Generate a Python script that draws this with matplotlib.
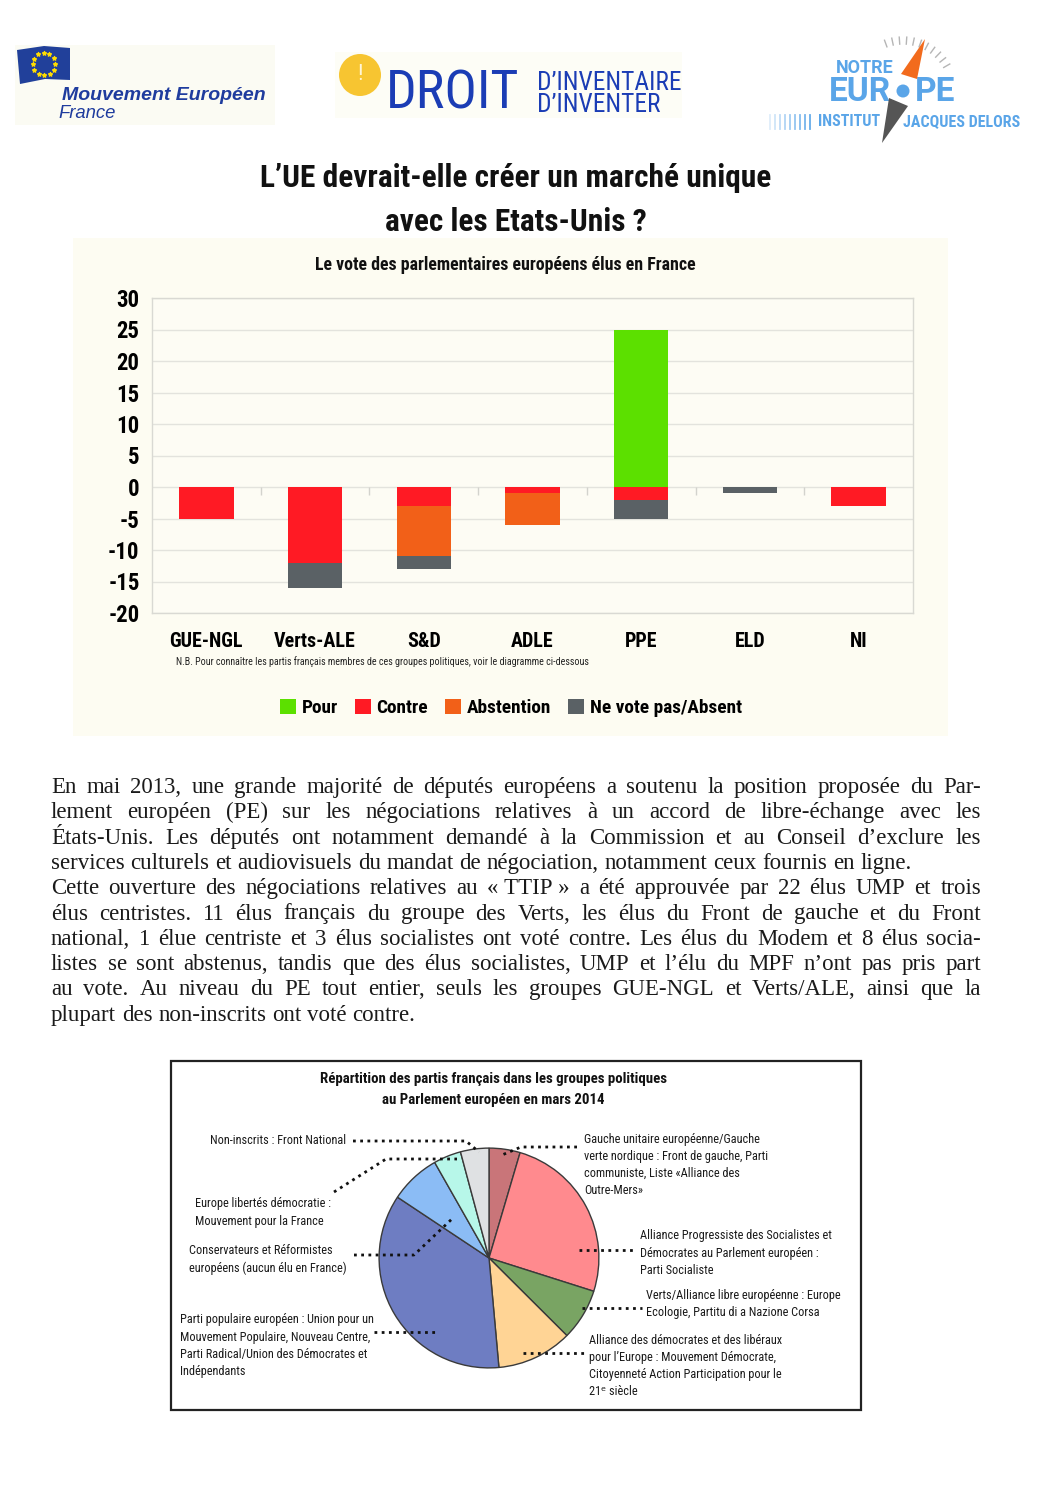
import matplotlib
matplotlib.use('Agg')
import matplotlib.pyplot as plt
import numpy as np
from matplotlib.patches import Rectangle, Circle, Polygon
from matplotlib import font_manager as fm

W, H = 1058, 1497

# ---------------- data ----------------
categories = ['GUE-NGL', 'Verts-ALE', 'S&D', 'ADLE', 'PPE', 'ELD', 'NI']
pour = [0, 0, 0, 0, 25, 0, 0]
contre = [5, 12, 3, 1, 2, 0, 3]
abstention = [0, 0, 8, 5, 0, 0, 0]
absent = [0, 4, 2, 0, 3, 1, 0]
series_labels = ['Pour', 'Contre', 'Abstention', 'Ne vote pas/Absent']
series_colors = ['#5ce000', '#ff1a24', '#f26018', '#5a6165']
yticks = list(range(-20, 31, 5))

pie_groups = ['GUE/NGL', 'S&D', 'Verts/ALE', 'ADLE', 'PPE', 'ECR', 'ELD', 'NI']
pie_sizes = [35, 194, 58, 85, 274, 57, 31, 32]
pie_colors = ['#c97579', '#ff8a8e', '#79a463', '#ffd495', '#6e7dc2', '#8bbcf5', '#b7f7e9', '#dfe1e3']

paragraph_lines = [
    "En mai 2013, une grande majorité de députés européens a soutenu la position proposée du Par-",
    "lement européen (PE) sur les négociations relatives à un accord de libre-échange avec les",
    "États-Unis. Les députés ont notamment demandé à la Commission et au Conseil d’exclure les",
    "services culturels et audiovisuels du mandat de négociation, notamment ceux fournis en ligne.",
    "Cette ouverture des négociations relatives au «\u00a0TTIP\u00a0» a été approuvée par 22 élus UMP et trois",
    "élus centristes. 11 élus français du groupe des Verts, les élus du Front de gauche et du Front",
    "national, 1 élue centriste et 3 élus socialistes ont voté contre. Les élus du Modem et 8 élus socia-",
    "listes se sont abstenus, tandis que des élus socialistes, UMP et l’élu du MPF n’ont pas pris part",
    "au vote. Au niveau du PE tout entier, seuls les groupes GUE-NGL et Verts/ALE, ainsi que la",
    "plupart des non-inscrits ont voté contre.",
]
justified = [True, True, True, False, True, True, True, True, True, False]


# ---------------- fonts ----------------
def pick_condensed():
    entries = fm.fontManager.ttflist
    names = {f.name for f in entries}
    for p in ['Roboto Condensed', 'Open Sans Condensed', 'Liberation Sans Narrow', 'Noto Sans Condensed']:
        if p in names:
            return p, 'normal'
    for fam in ['Roboto', 'Noto Sans', 'Open Sans', 'DejaVu Sans']:
        for f in entries:
            if f.name == fam and f.stretch in ('condensed', 'semi-condensed', 'extra-condensed'):
                return fam, f.stretch
    return 'DejaVu Sans', 'normal'


CFAM, CSTR = pick_condensed()
COND = [CFAM, 'DejaVu Sans']
SERIF = ['Liberation Serif', 'DejaVu Serif']
SANS = ['Roboto', 'DejaVu Sans']

# ---------------- figure ----------------
fig = plt.figure(figsize=(W / 100, H / 100), dpi=100)
fig.patch.set_facecolor('white')
renderer = fig.canvas.get_renderer()


def fbox(x0, y0, x1, y1):
    return [x0 / W, 1 - y1 / H, (x1 - x0) / W, (y1 - y0) / H]


page = fig.add_axes([0, 0, 1, 1], zorder=0)
page.set_xlim(0, W)
page.set_ylim(H, 0)
page.axis('off')

fg = fig.add_axes([0, 0, 1, 1], zorder=6)
fg.set_xlim(0, W)
fg.set_ylim(H, 0)
fg.axis('off')
fg.patch.set_alpha(0)


def measure(s, fs, family=COND, stretch=CSTR, **kw):
    t = page.text(0, 0, s, fontsize=fs, family=family, fontstretch=stretch, **kw)
    w = t.get_window_extent(renderer).width
    t.remove()
    return w


def fit_size(s, target, max_fs, **kw):
    w = measure(s, 20, **kw)
    return min(max_fs, 20 * target / w)


def put(x, y, s, fs, ha='left', va='center', family=COND, stretch=CSTR, color='#111111', **kw):
    return page.text(x, y, s, fontsize=fs, family=family, fontstretch=stretch, ha=ha, va=va,
                     color=color, **kw)


# ---------------- header logos ----------------
page.add_patch(Rectangle((15, 45), 260, 80, color='#fbfbf3', lw=0))
page.add_patch(Polygon([(17, 50), (44, 46), (70, 48), (70, 80), (45, 79), (20, 84)],
                       closed=True, color='#21409a', lw=0))
ang = np.linspace(0, 2 * np.pi, 13)[:-1]
page.scatter(44 + 11 * np.cos(ang), 64 + 11 * np.sin(ang), marker='*', s=8, color='#ffdd00', zorder=3)
ARIAL = ['Liberation Sans', 'DejaVu Sans']
fs_me = fit_size('Mouvement Européen', 211, 14, family=ARIAL, stretch='normal', fontweight='bold',
                 fontstyle='italic')
put(62, 95, 'Mouvement Européen', fs_me, family=ARIAL, stretch='normal', fontweight='bold',
    fontstyle='italic', color='#1f3c9e')
put(58, 114, 'France', fs_me * 0.95, family=ARIAL, stretch='normal', fontstyle='italic', color='#1f3c9e')

BL = '#1b3db5'
page.add_patch(Rectangle((335, 52), 347, 66, color='#fdfdf6', lw=0))
page.add_patch(Circle((360, 75), 21, color='#f7c531', lw=0))
put(360, 75, '!', 16, ha='center', color='#fff6d8')
put(386, 94, 'DROIT', fit_size('DROIT', 134, 42), color=BL)
fs_di = fit_size('D’INVENTAIRE', 144, 19)
put(537, 83, 'D’INVENTAIRE', fs_di, color=BL)
put(537, 105, 'D’INVENTER', fs_di, color=BL)

NE = '#5aa5e8'
put(865, 68, 'NOTRE', fit_size('NOTRE', 64, 13, family=SANS, stretch='normal', fontweight='bold'),
    ha='center', family=SANS, stretch='normal', fontweight='bold', color=NE)
fs_eu = fit_size('EUR', 72, 24, family=SANS, stretch='normal', fontweight='bold')
put(891, 92, 'EUR', fs_eu, ha='right', family=SANS, stretch='normal', fontweight='bold', color=NE)
put(915, 92, 'PE', fs_eu, ha='left', family=SANS, stretch='normal', fontweight='bold', color=NE)
page.add_patch(Circle((903, 91), 6.5, color=NE, lw=0))
fs_in = fit_size('JACQUES DELORS', 117, 14, fontweight='bold')
put(880, 122, 'INSTITUT', fs_in, ha='right', fontweight='bold', color=NE)
put(903, 122, 'JACQUES DELORS', fs_in, ha='left', fontweight='bold', color=NE)
for i, xx in enumerate(range(770, 812, 5)):
    page.plot([xx, xx], [115, 129], color=NE, lw=1.3, alpha=0.2 + 0.09 * i)
for a in np.radians(np.arange(-20, 64, 8)):
    page.plot([903 + 47 * np.sin(a), 903 + 54 * np.sin(a)],
              [91 - 47 * np.cos(a), 91 - 54 * np.cos(a)], color='#b5b5b5', lw=1)
page.add_patch(Polygon([(925, 39), (901, 74), (917, 79)], closed=True, color='#f26b1d', lw=0, zorder=4))
page.add_patch(Polygon([(889, 98), (908, 106), (882, 143)], closed=True, color='#555555', lw=0, zorder=4))

# ---------------- title ----------------
fs_t = fit_size('L’UE devrait-elle créer un marché unique', 508, 25, fontweight='bold')
put(516, 178, 'L’UE devrait-elle créer un marché unique', fs_t, ha='center', fontweight='bold')
page.add_patch(Rectangle((73, 238), 875, 498, color='#fdfcf2', lw=0))
put(516, 222, 'avec les Etats-Unis ?', fs_t, ha='center', fontweight='bold', zorder=3)
fs_sub = fit_size('Le vote des parlementaires européens élus en France', 379, 14, fontweight='bold')
put(505, 265, 'Le vote des parlementaires européens élus en France', fs_sub, ha='center', fontweight='bold')

# ---------------- bar chart ----------------
ax = fig.add_axes(fbox(152, 298, 913, 613), zorder=2)
ax.set_facecolor('#fdfcf4')
x = np.arange(len(categories))
contre_a = np.array(contre)
abst_a = np.array(abstention)
absent_a = np.array(absent)
bw = 0.5
b0 = ax.bar(x, pour, bw, color=series_colors[0], label=series_labels[0], zorder=3)
b1 = ax.bar(x, -contre_a, bw, color=series_colors[1], label=series_labels[1], zorder=3)
b2 = ax.bar(x, -abst_a, bw, bottom=-contre_a, color=series_colors[2], label=series_labels[2], zorder=3)
b3 = ax.bar(x, -absent_a, bw, bottom=-(contre_a + abst_a), color=series_colors[3],
            label=series_labels[3], zorder=3)
ax.set_xlim(-0.5, len(categories) - 0.5)
ax.set_ylim(-20, 30)
fs_y = fit_size('-20', 26, 16, fontweight='bold') * 1.2
fs_x = fit_size('Verts-ALE', 72, 16, fontweight='bold') * 1.13
ax.set_yticks(yticks)
ax.set_yticklabels([str(v) for v in yticks], fontsize=fs_y, fontweight='bold', family=COND,
                   fontstretch=CSTR)
ax.set_xticks(x)
ax.set_xticklabels(categories, fontsize=fs_x, fontweight='bold', family=COND, fontstretch=CSTR)
ax.tick_params(axis='y', length=0, pad=9)
ax.tick_params(axis='x', length=0, pad=14)
ax.yaxis.grid(True, color='#e3e3dd', lw=1, zorder=0)
ax.set_axisbelow(True)
for s in ax.spines.values():
    s.set_color('#d9d9d3')
    s.set_linewidth(1)
ax.vlines(np.arange(0.5, len(categories) - 0.5, 1), -1.25, 0, color='#d3d3cd', lw=1, zorder=1)

nb = 'N.B. Pour connaître les partis français membres de ces groupes politiques, voir le diagramme ci-dessous'
put(176, 662, nb, fit_size(nb, 414, 8), color='#222222')

fs_leg = fit_size('Ne vote pas/Absent', 140, 15, fontweight='bold') * 1.08
fig.legend(handles=[b0, b1, b2, b3], labels=series_labels, loc='center',
           bbox_to_anchor=(511 / W, 1 - 708 / H), ncol=4, frameon=False,
           prop=fm.FontProperties(family=COND, weight='bold', size=fs_leg, stretch=CSTR),
           handlelength=0.8, handleheight=0.8, handletextpad=0.3, columnspacing=0.9)

# ---------------- justified paragraph ----------------
XL, XR = 51, 981
fs = 16.5
maxw = max(measure(l, fs, family=SERIF, stretch='normal') for l, j in zip(paragraph_lines, justified) if j)
if maxw > (XR - XL) * 0.985:
    fs = fs * (XR - XL) * 0.985 / maxw
space = measure('a a', fs, family=SERIF, stretch='normal') - measure('aa', fs, family=SERIF, stretch='normal')
base = 793
for i, (line, j) in enumerate(zip(paragraph_lines, justified)):
    y = base + i * 25.3
    words = line.split(' ')
    widths = [measure(w_, fs, family=SERIF, stretch='normal') for w_ in words]
    if j and len(words) > 1:
        gap = (XR - XL - sum(widths)) / (len(words) - 1)
    else:
        gap = space
    xx = XL
    for w_, wd in zip(words, widths):
        put(xx, y, w_, fs, family=SERIF, stretch='normal', va='baseline', color='#1a1a1a')
        xx += wd + gap

# ---------------- pie chart ----------------
page.add_patch(Rectangle((171, 1061), 690, 349, fill=False, edgecolor='#222222', lw=1.6))
pt1 = 'Répartition des partis français dans les groupes politiques'
fs_pt = fit_size(pt1, 348, 12, fontweight='bold')
put(493, 1079, pt1, fs_pt, ha='center', fontweight='bold')
put(493, 1100, 'au Parlement européen en mars 2014', fs_pt, ha='center', fontweight='bold')

pax = fig.add_axes(fbox(489 - 111, 1258 - 111, 489 + 111, 1258 + 111), zorder=3)
pax.pie(pie_sizes, colors=pie_colors, startangle=90, counterclock=False,
        wedgeprops=dict(edgecolor='#3a3a3a', linewidth=1))
pax.set_xlim(-1.01, 1.01)
pax.set_ylim(-1.01, 1.01)
pax.set_aspect('equal')
pax.axis('off')

pie_labels = [
    (['Non-inscrits : Front National'], 346, 1140, 'right'),
    (['Gauche unitaire européenne/Gauche', 'verte nordique : Front de gauche, Parti',
      'communiste, Liste «Alliance des', 'Outre-Mers»'], 584, 1139, 'left'),
    (['Europe libertés démocratie :', 'Mouvement pour la France'], 195, 1204, 'left'),
    (['Conservateurs et Réformistes', 'européens (aucun élu en France)'], 189, 1251, 'left'),
    (['Alliance Progressiste des Socialistes et', 'Démocrates au Parlement européen :',
      'Parti Socialiste'], 640, 1236, 'left'),
    (['Verts/Alliance libre européenne : Europe', 'Ecologie, Partitu di a Nazione Corsa'], 646, 1295, 'left'),
    (['Parti populaire européen : Union pour un', 'Mouvement Populaire, Nouveau Centre,',
      'Parti Radical/Union des Démocrates et', 'Indépendants'], 180, 1320, 'left'),
    (['Alliance des démocrates et des libéraux', 'pour l’Europe : Mouvement Démocrate,',
      'Citoyenneté Action Participation pour le', '21ᵉ siècle'], 589, 1340, 'left'),
]
fs_pl = fit_size('Alliance Progressiste des Socialistes et', 179, 10) * 1.07
for lines, lx, ly, ha in pie_labels:
    for k, s in enumerate(lines):
        put(lx, ly + k * 17.2, s, fs_pl, ha=ha, color='#1a1a1a')

leaders = [
    [(353, 1141), (466, 1141), (479, 1152)],
    [(577, 1147), (521, 1147), (502, 1155)],
    [(334, 1192), (386, 1159), (457, 1159)],
    [(354, 1255), (414, 1255), (454, 1217)],
    [(579, 1250), (635, 1250)],
    [(582, 1308), (642, 1308)],
    [(374, 1332), (437, 1332)],
    [(523, 1353), (586, 1353)],
]
for pts in leaders:
    xs, ys = zip(*pts)
    fg.plot(xs, ys, color='#111111', lw=2, linestyle=(0, (1, 1.6)), solid_capstyle='butt')

fig.savefig('out.png', dpi=100, facecolor='white')
